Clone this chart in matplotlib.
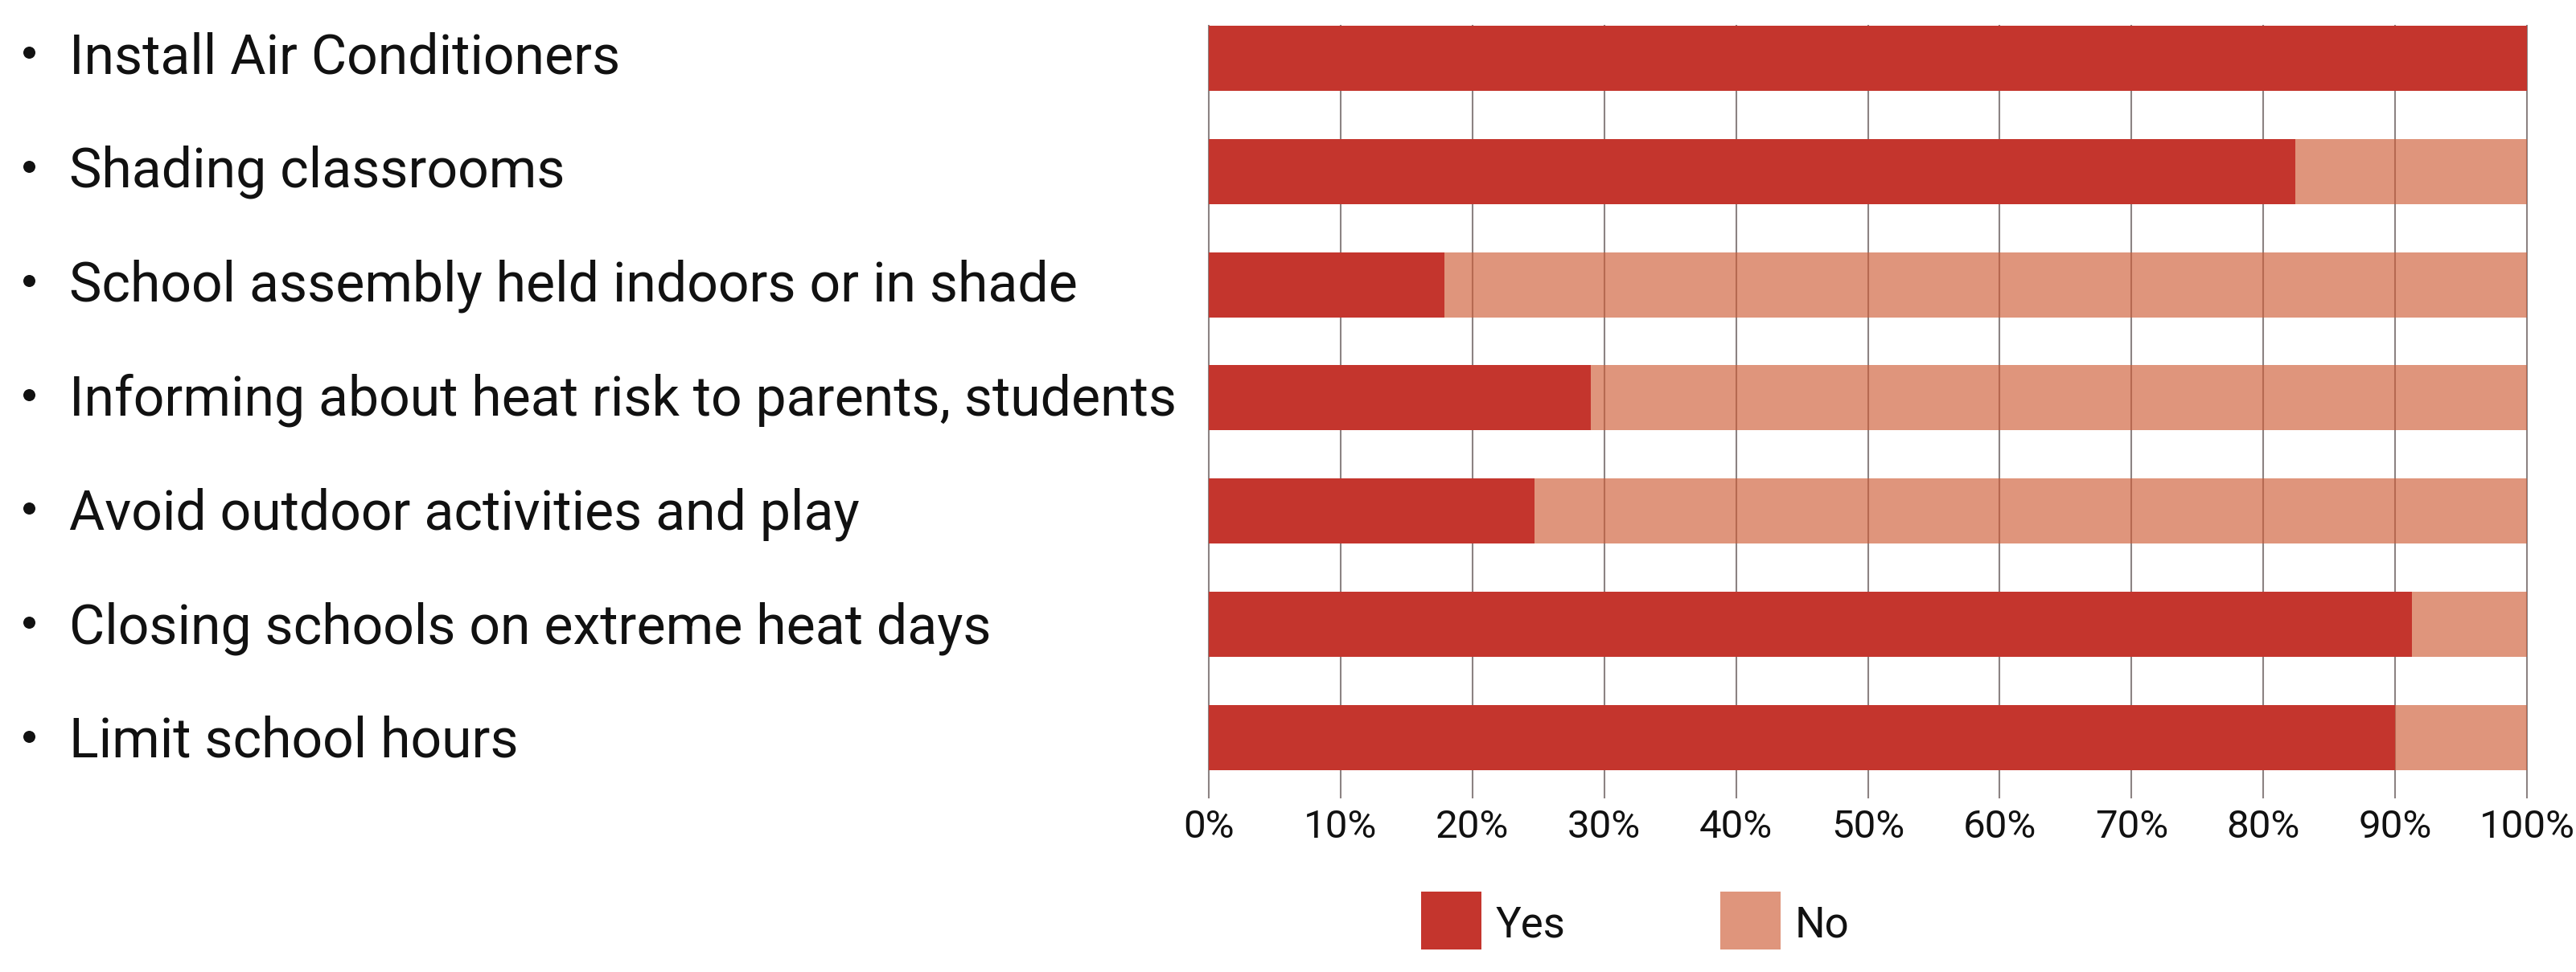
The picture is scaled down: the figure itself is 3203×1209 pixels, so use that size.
import matplotlib
matplotlib.use("Agg")
import matplotlib.pyplot as plt
from matplotlib.patches import Rectangle
import numpy as np

plt.rcParams['font.family'] = ['Roboto', 'DejaVu Sans']

categories = [
    "Install Air Conditioners",
    "Shading classrooms",
    "School assembly held indoors or in shade",
    "Informing about heat risk to parents, students",
    "Avoid outdoor activities and play",
    "Closing schools on extreme heat days",
    "Limit school hours",
]
yes_share = [100.0, 82.4, 17.9, 29.0, 24.7, 91.3, 90.0]
no_share = [0.0, 17.6, 82.1, 71.0, 75.3, 8.7, 10.0]
tick_values = [0, 10, 20, 30, 40, 50, 60, 70, 80, 90, 100]
tick_labels = [f"{v}%" for v in tick_values]
series_names = ["Yes", "No"]

YES_COLOR = "#C4352D"
NO_COLOR = "#CE5C36"
NO_ALPHA = 0.65
GRID_COLOR = "#8C8383"
TEXT_COLOR = "#111111"

W, H = 3203, 1209
fig = plt.figure(figsize=(W / 100, H / 100), dpi=100)
fig.patch.set_facecolor("white")

ax = fig.add_axes([1503 / W, 1 - 992 / H, 1639 / W, (992 - 32) / H])

y = np.arange(len(categories))
bh = 0.575
ax.barh(y, yes_share, height=bh, color=YES_COLOR, zorder=3, linewidth=0)
ax.barh(y, no_share, left=yes_share, height=bh, color=NO_COLOR, alpha=NO_ALPHA,
        zorder=3, linewidth=0)

ax.set_xlim(0, 100)
ax.set_ylim(-bh / 2 + (992 - 32) / 140.8, -bh / 2)

for v in tick_values:
    ax.axvline(v, color=GRID_COLOR, lw=1.5, zorder=1, clip_on=False)

ax.set_xticks(tick_values)
ax.set_xticklabels(tick_labels, fontsize=35.5, color=TEXT_COLOR)
ax.tick_params(axis="x", length=0, pad=10)
ax.set_yticks([])
for s in ax.spines.values():
    s.set_visible(False)

# left category labels with bullets (cap centres spread from 66 px to 917 px)
n = len(categories)
for i, c in enumerate(categories):
    yc = 66 + i * (917 - 66) / (n - 1)
    fig.text(86 / W, 1 - (yc + 25) / H, c, ha="left", va="baseline",
             fontsize=49, color=TEXT_COLOR)
    fig.lines.append(plt.Line2D([35.5 / W], [1 - (yc - 1) / H], transform=fig.transFigure,
                                marker="o", markersize=10.8, color=TEXT_COLOR,
                                markeredgewidth=0, linestyle="none"))

# legend
legend_items = [(series_names[0], YES_COLOR, 1.0, 1767),
                (series_names[1], NO_COLOR, NO_ALPHA, 2139)]
for name, col, a, x0 in legend_items:
    fig.patches.append(Rectangle((x0 / W, 1 - 1181 / H), 75 / W, 72 / H,
                                 transform=fig.transFigure, facecolor=col,
                                 alpha=a, linewidth=0))
    fig.text((x0 + 93) / W, 1 - 1146 / H, name, ha="left", va="center_baseline",
             fontsize=38, color=TEXT_COLOR)

fig.savefig("out.png", dpi=100)
